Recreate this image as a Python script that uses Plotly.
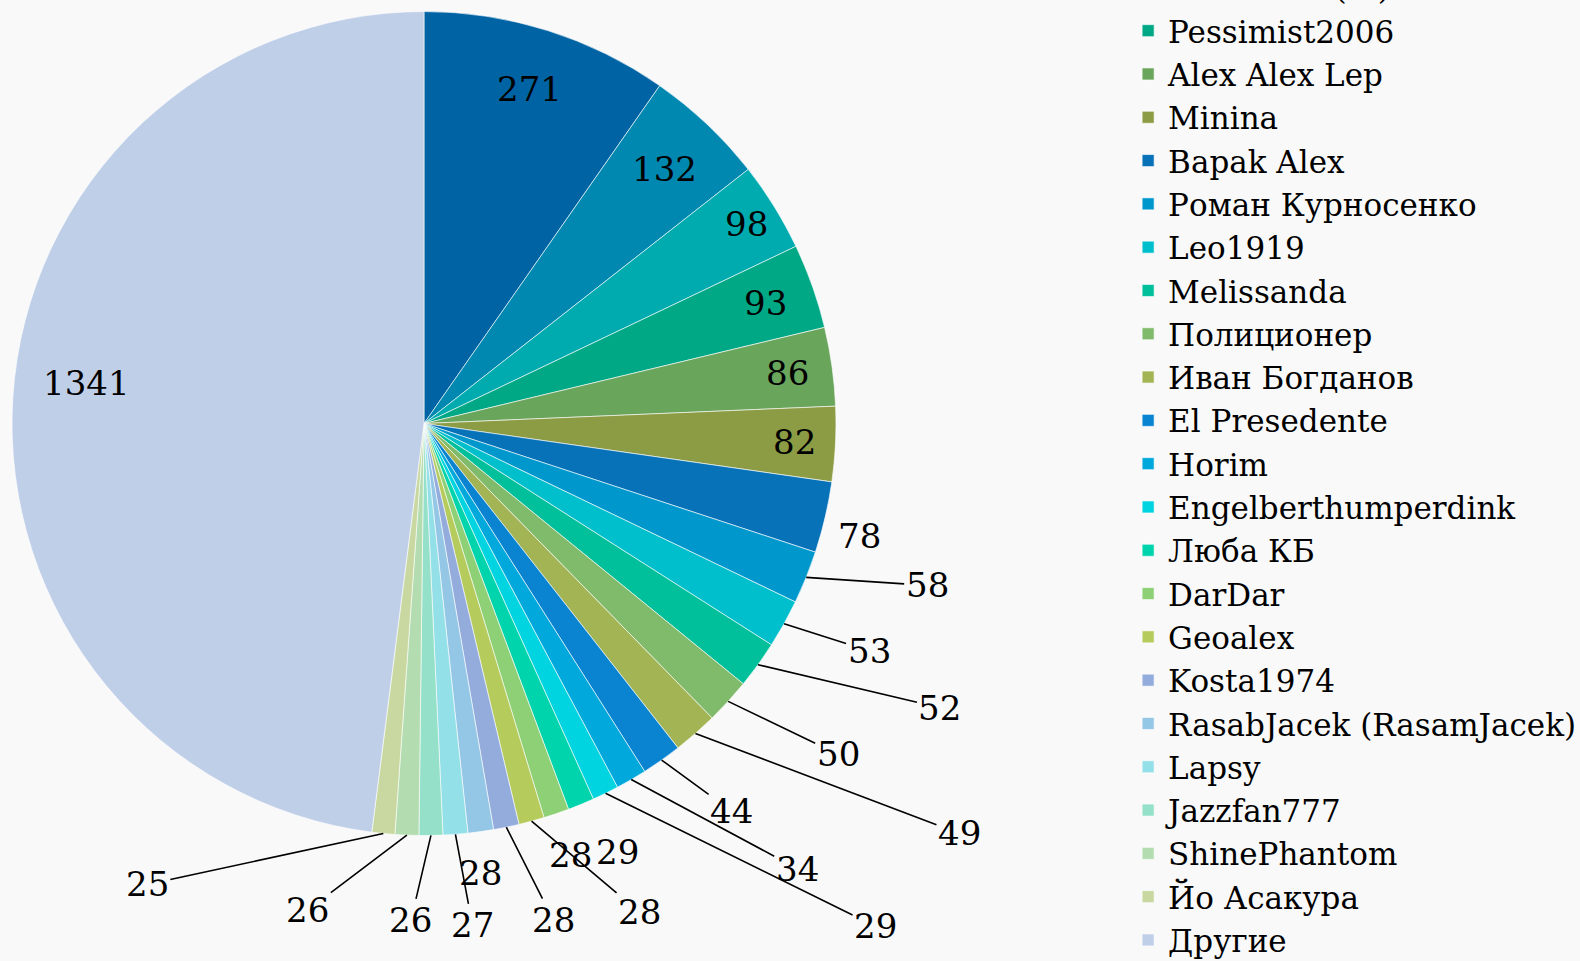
import math
import plotly.graph_objects as go

names = [
    "Участник 1", "Участник 2", "Участник (…)",
    "Pessimist2006", "Alex Alex Lep", "Minina", "Bapak Alex",
    "Роман Курносенко", "Leo1919", "Melissanda", "Полиционер",
    "Иван Богданов", "El Presedente", "Horim", "Engelberthumperdink",
    "Люба КБ", "DarDar", "Geoalex", "Kosta1974", "RasabJacek (RasamJacek)",
    "Lapsy", "Jazzfan777", "ShinePhantom", "Йо Асакура", "Другие",
]
values = [271, 132, 98, 93, 86, 82, 78, 58, 53, 52, 50, 49, 44, 34, 29,
          29, 28, 28, 28, 28, 27, 26, 26, 25, 1341]
colors = [
    "#0063a3", "#0088b0", "#00abb0", "#00a886", "#6aa55c", "#8c9c44",
    "#0872b8", "#0098cc", "#00bfcc", "#00c09c", "#80bb6c", "#a3b455",
    "#0a84d0", "#00a8dc", "#00d4e0", "#00d4ac", "#8ed076", "#b5cb5c",
    "#94acdc", "#94c6e6", "#94e0e8", "#94e0c8", "#b3ddb0", "#c8d8a0",
    "#c0cfe8",
]

# label placement style:
#   ("in", radius factor, angle shift in degrees)
#   ("out", dx px, dy px, leader line)
label_style = [
    ("in", 0.85, 0), ("in", 0.85, 0), ("in", 0.92, 0), ("in", 0.88, 0),
    ("in", 0.89, 0), ("in", 0.90, 0),
    ("out", 34, 19, False), ("out", 121, 8, True), ("out", 85, 27, True),
    ("out", 182, 43, True), ("out", 110, 53, True), ("out", 264, 100, True),
    ("out", 70, 51, True), ("out", 166, 89, True), ("out", 270, 133, True),
    ("out", 36, 48, False), ("out", 14, 41, False), ("out", 108, 91, True),
    ("out", 47, 93, True), ("out", 0, 41, False), ("out", 17, 91, True),
    ("out", -20, 85, True), ("out", -99, 75, True), ("out", -236, 51, True),
    ("in", 0.826, 3.2),
]

FONT = "DejaVu Serif"
W, H = 1580, 961
dom_x = [0.0076, 0.5291]
dom_y = [0.1306, 0.9880]

fig = go.Figure(go.Pie(
    labels=names,
    values=values,
    sort=False,
    direction="clockwise",
    rotation=0,
    marker=dict(colors=colors, line=dict(color="white", width=0.6)),
    textinfo="none",
    domain=dict(x=dom_x, y=dom_y),
    showlegend=True,
    hoverinfo="label+value",
))

# pie geometry (as the library lays it out in its domain, margins = 0)
cx = (dom_x[0] + dom_x[1]) / 2 * W
cy = (1 - (dom_y[0] + dom_y[1]) / 2) * H
R = min((dom_x[1] - dom_x[0]) * W, (dom_y[1] - dom_y[0]) * H) / 2
total = sum(values)

annotations = []
cum = 0
for v, st in zip(values, label_style):
    theta = (cum + v / 2) / total * 2 * math.pi
    cum += v
    if st[0] == "in":
        _, k, shift = st
        t = theta + math.radians(shift)
        px = cx + k * R * math.sin(t)
        py = cy - k * R * math.cos(t)
        annotations.append(dict(
            x=px / W, y=1 - py / H, xref="paper", yref="paper",
            xanchor="center", yanchor="middle",
            text=str(v), showarrow=False,
            font=dict(family=FONT, size=34, color="black"),
        ))
    else:
        _, dx, dy, line = st
        px = cx + R * math.sin(theta)
        py = cy - R * math.cos(theta)
        annotations.append(dict(
            x=px / W, y=1 - py / H, xref="paper", yref="paper",
            text=str(v), showarrow=True, arrowhead=0, arrowwidth=1.6,
            arrowcolor="black" if line else "rgba(0,0,0,0)",
            ax=dx, ay=dy, standoff=0,
            font=dict(family=FONT, size=34, color="black"),
        ))

fig.update_layout(
    width=W,
    height=H,
    margin=dict(l=0, r=0, t=0, b=0, autoexpand=False),
    paper_bgcolor="#f9f9f9",
    plot_bgcolor="#f9f9f9",
    font=dict(family=FONT, color="black"),
    annotations=annotations,
    legend=dict(
        x=0.714, xanchor="left",
        y=1.131, yanchor="top",
        font=dict(family=FONT, size=31, color="black"),
        bgcolor="rgba(0,0,0,0)",
        maxheight=2000,
        itemclick=False,
    ),
)

fig.write_html(
    "out.html",
    config={"displayModeBar": False},
    post_script="document.body.style.margin='0';",
)
